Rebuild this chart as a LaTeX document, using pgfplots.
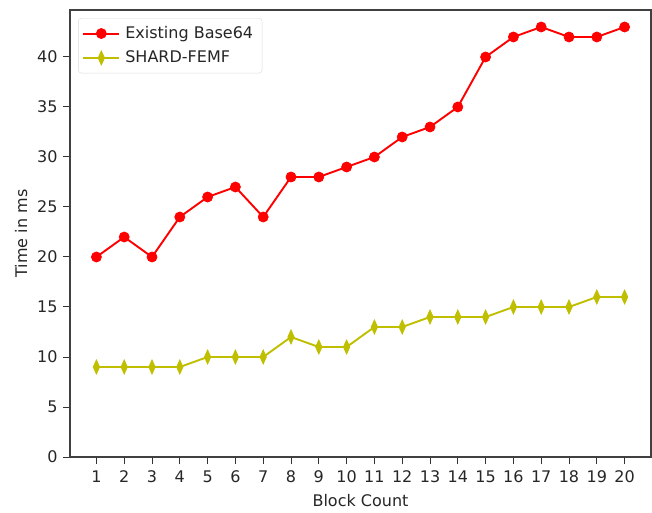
\documentclass[border=0pt]{standalone}
\usepackage{pgfplots}
\pgfplotsset{compat=1.18}
\usepackage{fontspec}
\setmainfont{DejaVu Sans}
\definecolor{mplyellow}{rgb}{0.75,0.75,0}
\definecolor{txt}{rgb}{0.15,0.15,0.15}
\begin{document}
\fontsize{16}{19}\selectfont
\begin{tikzpicture}
\begin{axis}[
  scale only axis,
  width=581pt, height=447pt,
  xmin=0.05, xmax=20.95,
  ymin=0, ymax=44.7,
  xtick={1,2,...,20},
  ytick={0,5,...,40},
  tick align=outside,
  tick pos=left,
  major tick length=7pt,
  every tick/.style={black!80, line width=1pt},
  axis line style={black!75, line width=1.1pt},
  /pgf/number format/assume math mode=true,
  tick label style={font=\fontsize{16}{19}\selectfont, text=txt},
  xticklabel style={yshift=-1pt},
  label style={font=\fontsize{16}{19}\selectfont, text=txt},
  xlabel={Block Count},
  ylabel={Time in ms},
  xlabel style={yshift=-1pt},
  ylabel style={yshift=-1pt},
  legend style={at={(0.014,0.982)}, anchor=north west, draw=black!15, rounded corners=3pt,
    font=\fontsize{16}{19}\selectfont, text=txt, row sep=6pt, inner xsep=4pt, inner ysep=6pt},
  legend cell align=left,
  legend image code/.code={%
    \draw[line width=2pt] (0pt,0pt) -- (36pt,0pt);
    \path[mark repeat=2,mark phase=2] plot coordinates {(0pt,0pt)(18pt,0pt)(36pt,0pt)};},
  legend style={nodes={inner xsep=5pt}},
]
\addplot[red, line width=1.9pt, mark=*, mark size=5pt, mark options={solid, fill=red, draw=red, line width=0.8pt}]
coordinates {(1,20)(2,22)(3,20)(4,24)(5,26)(6,27)(7,24)(8,28)(9,28)(10,29)(11,30)(12,32)(13,33)(14,35)(15,40)(16,42)(17,43)(18,42)(19,42)(20,43)};
\addlegendentry{Existing Base64}
\addplot[mplyellow, line width=1.9pt, mark=diamond*, mark size=7pt, mark options={solid, fill=mplyellow, draw=mplyellow, line width=0.8pt, xscale=0.6}]
coordinates {(1,9)(2,9)(3,9)(4,9)(5,10)(6,10)(7,10)(8,12)(9,11)(10,11)(11,13)(12,13)(13,14)(14,14)(15,14)(16,15)(17,15)(18,15)(19,16)(20,16)};
\addlegendentry{SHARD-FEMF}
\end{axis}
\path (current axis.south west) ++(-70pt,-52pt) coordinate (bl);
\path (current axis.north east) ++(1pt,10pt) coordinate (tr);
\path (bl) rectangle (tr);
\end{tikzpicture}
\end{document}
